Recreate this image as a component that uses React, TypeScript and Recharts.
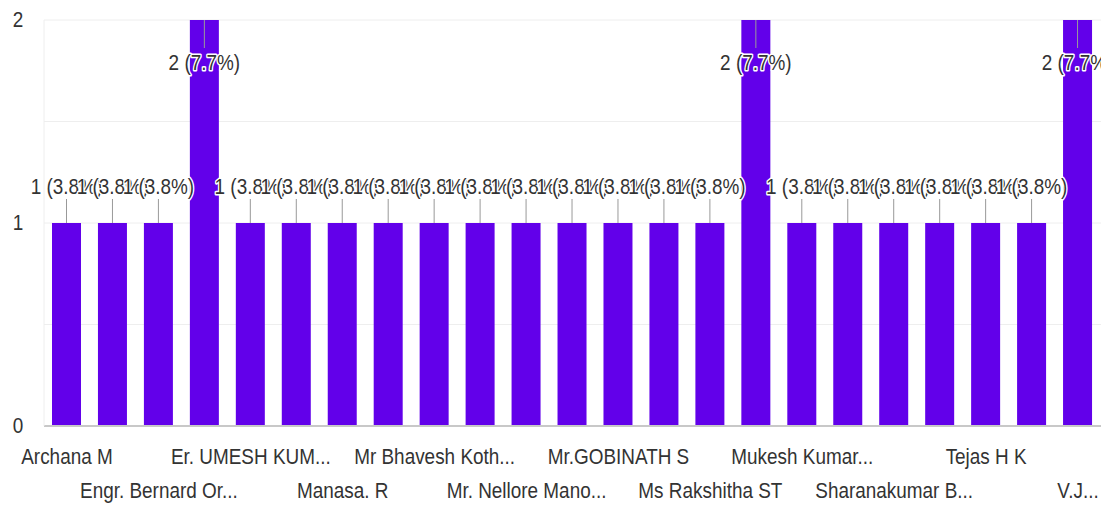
import React from "react";
import { BarChart, Bar, XAxis, YAxis, CartesianGrid, LabelList } from "recharts";

const categories = [
  "Archana M",
  "Deepak R",
  "Engr. Bernard Or...",
  "Er. Anand K",
  "Er. UMESH KUM...",
  "Karthik S",
  "Manasa. R",
  "Mohan Raj",
  "Mr Bhavesh Koth...",
  "Mr Prakash N",
  "Mr. Nellore Mano...",
  "Mr. Suresh K",
  "Mr.GOBINATH S",
  "Mrs. Kavya P",
  "Ms Rakshitha ST",
  "Ms Shruthi V",
  "Mukesh Kumar...",
  "Priya D",
  "Sharanakumar B...",
  "Sneha M",
  "Tejas H K",
  "Usha Rani",
  "V.J...",
];

const counts = [1, 1, 1, 2, 1, 1, 1, 1, 1, 1, 1, 1, 1, 1, 1, 2, 1, 1, 1, 1, 1, 1, 2];

const yTicks = [0, 0.5, 1, 1.5, 2];

const total = counts.reduce((a, b) => a + b, 0);
const data = categories.map((name, i) => ({ name, count: counts[i] }));

const FONT = "'Liberation Sans', Arial, sans-serif";
const FS = 21.5;
const SX = 0.88;
const BAR_COLOR = "#6200EA";
const TEXT_COLOR = "#333333";

const NarrowText = (props: any) => {
  const { x, y, children, ...rest } = props;
  return (
    <g transform={`translate(${x},${y}) scale(${SX},1)`}>
      <text x={0} y={0} textAnchor="middle" fontFamily={FONT} fontSize={FS} fill={TEXT_COLOR} {...rest}>
        {children}
      </text>
    </g>
  );
};

const XTick = (props: any) => {
  const { x, y, payload } = props;
  const i = payload.index;
  if (i % 2 !== 0) return null;
  const row = (i / 2) % 2;
  return (
    <NarrowText x={x} y={y + (row === 0 ? 38 : 72)}>
      {payload.value}
    </NarrowText>
  );
};

const YTick = (props: any) => {
  const { x, y, payload } = props;
  if (payload.value % 1 !== 0) return null;
  return (
    <NarrowText x={x - 26} y={y + 6.5}>
      {payload.value}
    </NarrowText>
  );
};

const ValueLabel = (props: any) => {
  const { x, y, width, value } = props;
  const cx = x + width / 2;
  const pct = ((value / total) * 100).toFixed(1);
  const below = y < 60;
  const lineY1 = below ? y : y - 24;
  const lineY2 = below ? y + 28 : y;
  const textY = below ? y + 50 : y - 29;
  return (
    <g>
      <line x1={cx} x2={cx} y1={lineY1} y2={lineY2} stroke="#999999" strokeWidth={1} />
      <NarrowText
        x={cx}
        y={textY}
        stroke="#ffffff"
        strokeWidth={3}
        strokeLinejoin="round"
        paintOrder="stroke"
      >
        {`${value} (${pct}%)`}
      </NarrowText>
    </g>
  );
};

export default function App() {
  return (
    <div
      style={{
        position: "absolute",
        left: 0,
        top: 0,
        width: 1101,
        height: 508,
        overflow: "hidden",
        background: "#fff",
      }}
    >
      <BarChart
        width={1106}
        height={508}
        data={data}
        margin={{ top: 20, right: 5, bottom: 0, left: 0 }}
      >
        <CartesianGrid vertical={false} stroke="#eeeeee" />
        <XAxis
          dataKey="name"
          interval={0}
          tickLine={false}
          tickSize={0}
          tickMargin={0}
          height={82}
          axisLine={{ stroke: "#c8c8c8", strokeWidth: 2 }}
          tick={<XTick />}
        />
        <YAxis
          width={44}
          domain={[0, 2]}
          ticks={yTicks}
          tickLine={false}
          tickSize={0}
          tickMargin={0}
          axisLine={{ stroke: "#eeeeee" }}
          tick={<YTick />}
        />
        <Bar dataKey="count" fill={BAR_COLOR} barSize={29} isAnimationActive={false}>
          <LabelList dataKey="count" content={<ValueLabel />} />
        </Bar>
      </BarChart>
    </div>
  );
}
